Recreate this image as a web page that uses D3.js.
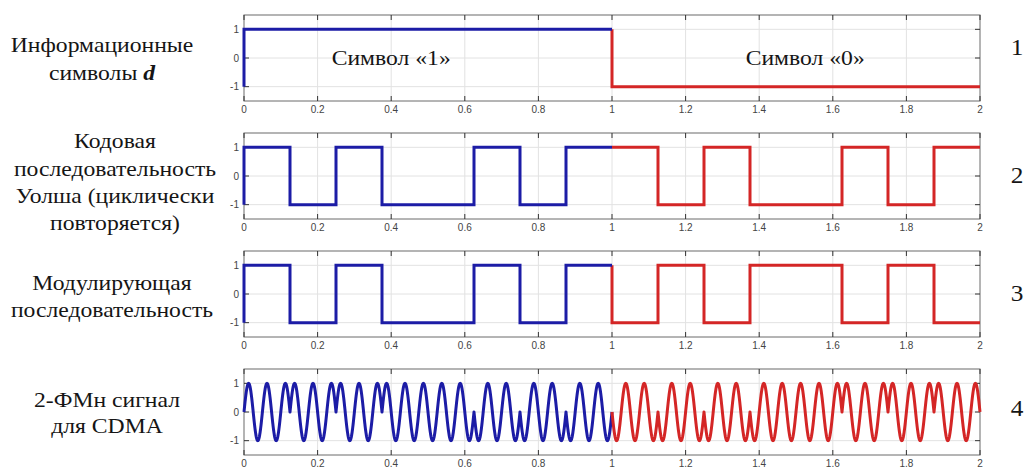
<!DOCTYPE html>
<html><head><meta charset="utf-8">
<script src="https://cdn.jsdelivr.net/npm/d3@7"></script>
<style>
html,body{margin:0;padding:0;background:#fff;}
svg{display:block;}
</style></head>
<body><svg id="c" width="1026" height="468"></svg>
<script>
// ---- data ----
const xTicks = [0, 0.2, 0.4, 0.6, 0.8, 1, 1.2, 1.4, 1.6, 1.8, 2];
const yTicks = [-1, 0, 1];
const startLevel = -1;
const infoSymbols = [1, -1];                          // panel 1, one value per symbol (duration 1)
const walshCode = [1, -1, 1, -1, -1, 1, -1, 1,        // panel 2, chips of 1/8
                   1, -1, 1, -1, -1, 1, -1, 1];
const modulating = [1, -1, 1, -1, -1, 1, -1, 1,       // panel 3 = d * code
                    -1, 1, -1, 1, 1, -1, 1, -1];
const carrierCycles = 20;                              // carrier periods per symbol (panel 4)
const rowLabels = [
  ["Информационные", "символы d"],
  ["Кодовая", "последовательность", "Уолша (циклически", "повторяется)"],
  ["Модулирующая", "последовательность"],
  ["2-ФМн сигнал", "для CDMA"]
];
const rowNumbers = ["1", "2", "3", "4"];
const symbolNotes = [{x: 0.4, text: "Символ «1»"}, {x: 1.525, text: "Символ «0»"}];

// ---- layout ----
const svg = d3.select("#c");
const X0 = 244, X1 = 980;
const panelTops = [15, 133, 251, 369];
const PH = 86;
const BLUE = "#1c1ca6", RED = "#d42626";
const SERIF = "'Liberation Serif', 'Times New Roman', serif";
const SANS = "'Liberation Sans', Arial, sans-serif";
const x = d3.scaleLinear().domain([0, 2]).range([X0, X1]);

function serifText(cx, by, size, str) {
  const g = svg.append("g").attr("transform", `translate(${cx},${by}) scale(1.1,1)`);
  return g.append("text").attr("x", 0).attr("y", 0).attr("text-anchor", "middle")
    .style("font-family", SERIF).attr("font-size", size).attr("fill", "#151515").text(str);
}

function stepPoints(values, t0, t1) {
  const n = values.length, dt = (t1 - t0) / n;
  const pts = [];
  values.forEach((v, i) => { pts.push([t0 + i * dt, v]); });
  pts.push([t1, values[n - 1]]);
  return pts;
}

function drawPanel(i, top) {
  const y = d3.scaleLinear().domain([-1.5, 1.5]).range([top + PH, top]);
  const g = svg.append("g");
  g.selectAll(".gx").data(xTicks.slice(1, -1)).join("line")
    .attr("x1", d => x(d)).attr("x2", d => x(d)).attr("y1", top).attr("y2", top + PH)
    .attr("stroke", "#e2e2e2").attr("stroke-width", 1);
  g.selectAll(".gy").data(yTicks).join("line")
    .attr("x1", X0).attr("x2", X1).attr("y1", d => y(d)).attr("y2", d => y(d))
    .attr("stroke", "#e2e2e2").attr("stroke-width", 1);
  g.append("rect").attr("x", X0).attr("y", top).attr("width", X1 - X0).attr("height", PH)
    .attr("fill", "none").attr("stroke", "#6a6a6a").attr("stroke-width", 1);
  const tl = 5;
  xTicks.forEach(t => {
    g.append("line").attr("x1", x(t)).attr("x2", x(t)).attr("y1", top + PH).attr("y2", top + PH - tl).attr("stroke", "#333");
    g.append("line").attr("x1", x(t)).attr("x2", x(t)).attr("y1", top).attr("y2", top + tl).attr("stroke", "#333");
  });
  yTicks.forEach(t => {
    g.append("line").attr("x1", X0).attr("x2", X0 + tl).attr("y1", y(t)).attr("y2", y(t)).attr("stroke", "#333");
    g.append("line").attr("x1", X1).attr("x2", X1 - tl).attr("y1", y(t)).attr("y2", y(t)).attr("stroke", "#333");
  });
  g.selectAll(".xl").data(xTicks).join("text").style("font-family", SANS)
    .attr("x", d => x(d)).attr("y", top + PH + 11.5).attr("text-anchor", "middle")
    .attr("font-size", 10).attr("fill", "#444")
    .text(d => d3.format("")(d));
  g.selectAll(".yl").data(yTicks).join("text").style("font-family", SANS)
    .attr("x", X0 - 5).attr("y", d => y(d) + 3.5).attr("text-anchor", "end")
    .attr("font-size", 10).attr("fill", "#444")
    .text(d => d);
  return {g, y};
}

const lineStyle = (p, color) => p.attr("fill", "none").attr("stroke", color).attr("stroke-width", 3)
  .attr("stroke-linejoin", "miter").attr("stroke-linecap", "butt");

function drawStep(panelIdx, values) {
  const {g, y} = drawPanel(panelIdx, panelTops[panelIdx]);
  const half = values.length / 2;
  const first = values.slice(0, half), second = values.slice(half);
  const line = d3.line().x(d => x(d[0])).y(d => y(d[1])).curve(d3.curveStepAfter);
  const bluePts = [[0, startLevel]].concat(stepPoints(first, 0, 1));
  const redPts = [[1, first[first.length - 1]]].concat(stepPoints(second, 1, 2));
  lineStyle(g.append("path").attr("d", line(redPts)), RED);
  lineStyle(g.append("path").attr("d", line(bluePts)), BLUE);
  return {g, y};
}

const p1 = drawStep(0, infoSymbols);
drawStep(1, walshCode);
drawStep(2, modulating);

// panel 4: BPSK signal = carrier * modulating sequence
(function () {
  const {g, y} = drawPanel(3, panelTops[3]);
  const chipsPerUnit = modulating.length / 2;
  const sig = t => {
    const k = Math.min(modulating.length - 1, Math.floor(t * chipsPerUnit + 1e-9));
    return modulating[k] * Math.sin(2 * Math.PI * carrierCycles * t);
  };
  const N = 2000;
  const blue = d3.range(0, N + 1).map(i => { const t = i / N; return [t, sig(Math.min(t, 1 - 1e-9))]; });
  const red = d3.range(0, N + 1).map(i => { const t = 1 + i / N; return [t, sig(Math.min(t, 2 - 1e-9))]; });
  const line = d3.line().x(d => x(d[0])).y(d => y(d[1]));
  lineStyle(g.append("path").attr("d", line(blue)), BLUE).attr("stroke-linejoin", "round");
  lineStyle(g.append("path").attr("d", line(red)), RED).attr("stroke-linejoin", "round");
})();

// symbol notes in panel 1
symbolNotes.forEach(n => serifText(x(n.x), p1.y(0) + 7, 21.5, n.text));

// left labels
const labelCenters = [102, 115, 112, 107];
const labelBaselines = [[52, 80], [148, 176, 203, 230], [290, 317], [407, 433]];
rowLabels.forEach((lines, i) => {
  lines.forEach((s, j) => {
    const t = serifText(labelCenters[i], labelBaselines[i][j], 21.5, s);
    if (i === 0 && j === 1) {
      t.text(null);
      t.append("tspan").text("символы ");
      t.append("tspan").attr("font-weight", "bold").attr("font-style", "italic").text("d");
    }
  });
});
// right numbers
const numY = [55, 183, 301, 416];
rowNumbers.forEach((s, i) => serifText(1017, numY[i], 23, s));
</script></body></html>
